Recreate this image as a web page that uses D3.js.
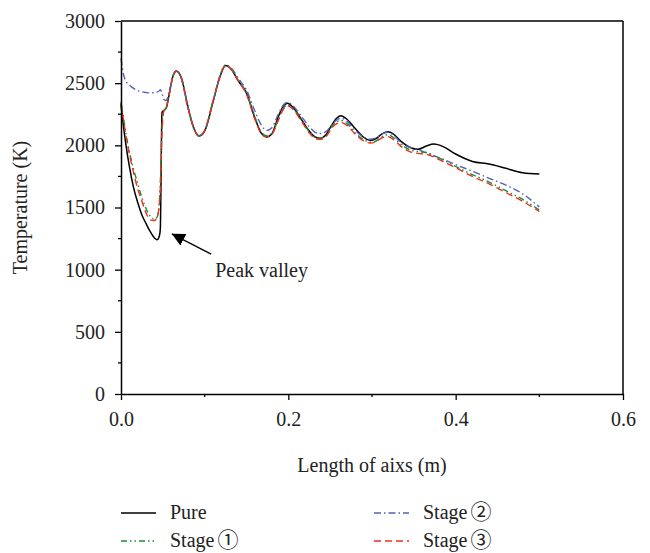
<!DOCTYPE html>
<html><head><meta charset="utf-8">
<script src="https://cdn.jsdelivr.net/npm/d3@7"></script>
<style>body{margin:0;background:#fff}svg{display:block}</style>
</head><body><svg id="c" width="650" height="553"></svg>
<script>
const xs = [0,0.003,0.006,0.01,0.015,0.02,0.025,0.03,0.035,0.04,0.043,0.046,0.047,0.049,0.051,0.054,0.057,0.062,0.066,0.072,0.08,0.087,0.093,0.1,0.11,0.118,0.125,0.132,0.14,0.15,0.16,0.168,0.174,0.18,0.188,0.194,0.199,0.205,0.215,0.225,0.232,0.238,0.245,0.252,0.258,0.263,0.27,0.28,0.29,0.298,0.305,0.312,0.319,0.325,0.335,0.345,0.355,0.365,0.374,0.385,0.4,0.42,0.44,0.46,0.48,0.5];
const pure = [2330,2150,2000,1830,1660,1540,1440,1370,1305,1255,1240,1275,1330,2265,2280,2300,2390,2555,2598,2545,2310,2140,2075,2115,2350,2545,2642,2610,2520,2420,2220,2095,2068,2090,2230,2315,2338,2310,2215,2115,2068,2057,2085,2165,2220,2238,2210,2135,2065,2040,2055,2092,2110,2095,2030,1985,1968,1995,2010,1990,1930,1870,1850,1815,1780,1770];
const stage1 = [2350,2220,2090,1950,1810,1690,1580,1490,1430,1405,1420,1560,1700,2150,2275,2300,2395,2555,2600,2545,2305,2140,2078,2120,2355,2555,2648,2615,2525,2420,2230,2105,2078,2095,2210,2300,2325,2300,2210,2110,2065,2055,2078,2150,2190,2200,2175,2100,2045,2025,2035,2070,2085,2065,2005,1965,1950,1942,1918,1882,1830,1765,1705,1635,1565,1480];
const stage2 = [2700,2570,2515,2485,2458,2440,2430,2425,2422,2424,2428,2440,2448,2420,2370,2360,2420,2550,2598,2545,2310,2140,2078,2120,2355,2550,2645,2620,2540,2445,2275,2160,2120,2140,2250,2325,2345,2322,2240,2150,2105,2095,2110,2165,2205,2218,2195,2120,2065,2050,2060,2092,2105,2085,2020,1985,1965,1938,1915,1888,1845,1792,1735,1680,1610,1505];
const stage3 = [2340,2200,2070,1930,1780,1650,1550,1455,1400,1395,1420,1540,1650,2100,2270,2300,2390,2550,2595,2540,2300,2135,2075,2120,2355,2550,2640,2610,2520,2410,2210,2090,2068,2085,2200,2290,2318,2295,2200,2100,2055,2048,2070,2140,2175,2183,2160,2090,2035,2018,2030,2060,2070,2050,1990,1950,1935,1928,1905,1870,1820,1750,1690,1620,1550,1468];
const seriesNames = ["Pure","Stage","Stage","Stage"];
const seriesMarks = ["","\u2460","\u2461","\u2462"];
const xTicks = [0,0.2,0.4,0.6];
const yTicks = [0,500,1000,1500,2000,2500,3000];
const xMinor = [0.1,0.3,0.5];
const yMinor = [250,750,1250,1750,2250,2750];
const annotation = {tip:[0.0607,1288], tail:[0.1078,1125], text:[0.1126,945], label:"Peak valley"};

const svg = d3.select("#c");
const font = "'Liberation Serif','Times New Roman',serif";
const fs = 20;
const m = {l:121, t:21, r:27, b:159};
const W = 650, H = 553;
const x = d3.scaleLinear().domain([0,0.6]).range([m.l, W-m.r]);
const y = d3.scaleLinear().domain([0,3000]).range([H-m.b, m.t]);

const styles = [
  {data:pure, color:"#000000", dash:null, w:1.5},
  {data:stage1, color:"#1e8e3a", dash:"6,3,1.5,3,1.5,3", w:1.4},
  {data:stage2, color:"#5560c0", dash:"7,3,1.5,3", w:1.4},
  {data:stage3, color:"#e8321e", dash:"7,4", w:1.4}
];

svg.append("line").attr("x1",x(0)).attr("x2",x(0.6)).attr("y1",y(3000)).attr("y2",y(3000)).attr("stroke","#000").attr("stroke-width",1.5);
svg.append("line").attr("x1",x(0.6)).attr("x2",x(0.6)).attr("y1",y(3000)).attr("y2",y(0)).attr("stroke","#000").attr("stroke-width",1.5);

const line = d3.line().x((d,i)=>x(xs[i])).y(d=>y(d)).curve(d3.curveMonotoneX);
[0,2,1,3].forEach(k=>{
  const s = styles[k];
  svg.append("path").attr("d", line(s.data)).attr("fill","none")
    .attr("stroke", s.color).attr("stroke-width", s.w)
    .attr("stroke-dasharray", s.dash).attr("stroke-linejoin","round");
});

const gx = svg.append("g").attr("transform",`translate(0,${y(0)})`)
  .call(d3.axisBottom(x).tickValues(xTicks).tickFormat(d3.format(".1f")).tickSize(6).tickPadding(12).tickSizeOuter(0));
gx.append("g").selectAll("line").data(xMinor).join("line").attr("x1",d=>x(d)).attr("x2",d=>x(d)).attr("y1",0).attr("y2",3).attr("stroke","#000").attr("stroke-width",1.3);
const gy = svg.append("g").attr("transform",`translate(${x(0)},0)`)
  .call(d3.axisLeft(y).tickValues(yTicks).tickFormat(d3.format("d")).tickSize(6).tickPadding(10).tickSizeOuter(0));
gy.append("g").selectAll("line").data(yMinor).join("line").attr("y1",d=>y(d)).attr("y2",d=>y(d)).attr("x1",0).attr("x2",-3).attr("stroke","#000").attr("stroke-width",1.3);
[gx,gy].forEach(g=>{
  g.selectAll(".domain").attr("stroke","#000").attr("stroke-width",1.5);
  g.selectAll(".tick line").attr("stroke","#000").attr("stroke-width",1.3);
  g.selectAll("text").attr("font-family",font).attr("font-size",fs).attr("fill","#222");
});

svg.append("text").attr("x",(x(0)+x(0.6))/2).attr("y",472).attr("text-anchor","middle")
  .attr("font-family",font).attr("font-size",fs).attr("fill","#222").text("Length of aixs (m)");
svg.append("text").attr("transform",`translate(27,${(y(0)+y(3000))/2}) rotate(-90)`).attr("text-anchor","middle")
  .attr("font-family",font).attr("font-size",fs).attr("fill","#222").text("Temperature (K)");

svg.append("defs").append("marker").attr("id","ah").attr("viewBox","0 0 10 10").attr("refX",10).attr("refY",5)
  .attr("markerWidth",13).attr("markerHeight",13).attr("markerUnits","userSpaceOnUse").attr("orient","auto-start-reverse")
  .append("path").attr("d","M0,0 L10,5 L0,10 z").attr("fill","#000");
svg.append("line").attr("x1",x(annotation.tail[0])).attr("y1",y(annotation.tail[1]))
  .attr("x2",x(annotation.tip[0])).attr("y2",y(annotation.tip[1]))
  .attr("stroke","#000").attr("stroke-width",1.3).attr("marker-end","url(#ah)");
svg.append("text").attr("x",x(annotation.text[0])).attr("y",y(annotation.text[1]))
  .attr("font-family",font).attr("font-size",fs).attr("fill","#222").text(annotation.label);

const legPos = [[121,513],[121,541],[374,513],[374,541]];
styles.forEach((s,i)=>{
  const [lx,ly] = legPos[i];
  svg.append("line").attr("x1",lx).attr("x2",lx+35).attr("y1",ly).attr("y2",ly)
    .attr("stroke",s.color).attr("stroke-width",s.w).attr("stroke-dasharray",s.dash);
  const t = svg.append("text").attr("x",lx+49).attr("y",ly+6).attr("font-family",font).attr("font-size",fs).attr("fill","#222");
  t.append("tspan").text(seriesNames[i]);
  if (seriesMarks[i]) t.append("tspan").attr("dx",3).attr("font-family","'Noto Sans CJK SC','Noto Sans CJK JP',sans-serif").attr("font-size",21).text(seriesMarks[i]);
});
</script></body></html>
